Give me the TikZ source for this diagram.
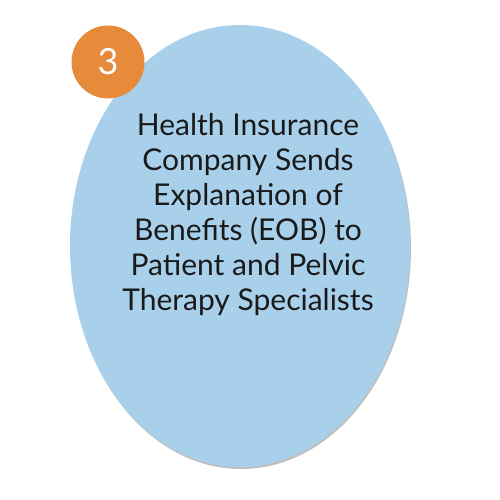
\documentclass[tikz,border=0pt]{standalone}
\usepackage{fontspec}
\setmainfont{Lato}
\definecolor{ovalblue}{HTML}{A9D0EB}
\definecolor{steporange}{HTML}{E68A3C}
\definecolor{ovaltext}{HTML}{1A1A1A}
\begin{document}
\begin{tikzpicture}[x = 1pt, y = -1pt]
                            \useasboundingbox (0,0) rectangle (500,500);
                            \fill [black!25] (241,248) ellipse [x radius = 170, y radius = 221];
                            \fill [ovalblue] (240,246) ellipse [x radius = 170, y radius = 221];
                            \node (oval)[align = center, text = ovaltext, font = \fontsize{30}{35}\selectfont, anchor = base] at (248,310) {Health Insurance\\Company Sends\\Explanation of\\Benefits (EOB) to\\Patient and Pelvic\\Therapy Specialists};
                            \node (num)[circle, fill = steporange, minimum size = 73pt, inner sep = 0pt, text = white, font = \fontsize{36}{36}\selectfont] at (108,62) {3};
                        \end{tikzpicture}
\end{document}
